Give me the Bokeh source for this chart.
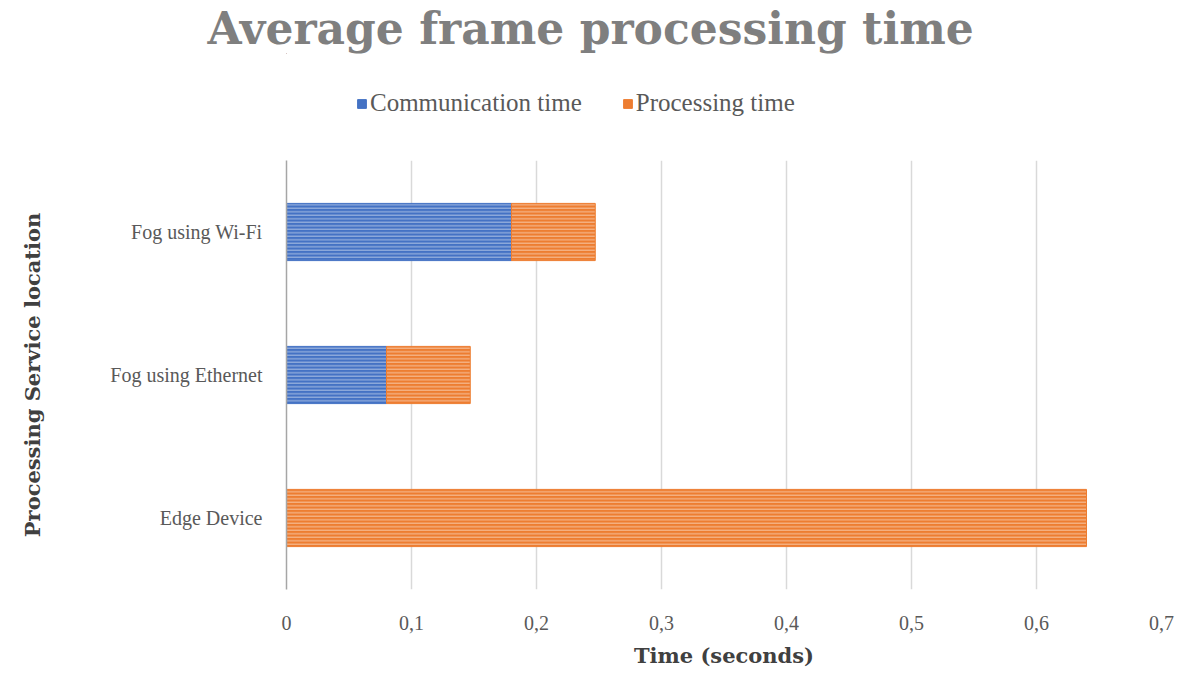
from bokeh.plotting import figure
from bokeh.layouts import column
from bokeh.models import ColumnDataSource, FixedTicker, Legend, LegendItem
from bokeh.embed import file_html
from bokeh.resources import INLINE

categories = ["Edge Device", "Fog using Ethernet", "Fog using Wi-Fi"]
communication = [0.0, 0.08, 0.18]
processing = [0.64, 0.067, 0.067]
series_names = ["Communication time", "Processing time"]
series_colors = ["#4472C4", "#ED7D31"]
tick_values = [0, 0.1, 0.2, 0.3, 0.4, 0.5, 0.6, 0.7]
tick_labels = ["0", "0,1", "0,2", "0,3", "0,4", "0,5", "0,6", "0,7"]

FONT = "Liberation Serif"
BOLD_FONT = "DejaVu Serif"
W = 1180

# ---- header: title + legend ----
header = figure(width=W, height=160, x_range=(0, 1), y_range=(0, 1),
                x_axis_type=None, y_axis_type=None,
                output_backend="svg", toolbar_location=None,
                title="Average frame processing time",
                min_border_left=0, min_border_right=0, min_border_top=15, min_border_bottom=0)
header.grid.visible = False
header.outline_line_color = None
header.title.text_font = BOLD_FONT
header.title.text_font_size = "44px"
header.title.text_font_style = "bold"
header.title.text_color = "#7f7f7f"
header.title.align = "left"
header.title.offset = -79
header.title.standoff = 0

items = []
for name, col in zip(series_names, series_colors):
    # zero-width proxy bar outside the visible range, only used for the legend swatch
    r = header.hbar(y=[5], left=[0], right=[0], height=0.5, color=col)
    items.append(LegendItem(label=name, renderers=[r]))
legend = Legend(items=items, orientation="horizontal", location=(70, 43))
legend.label_text_font = FONT
legend.label_text_font_size = "25px"
legend.label_text_color = "#595959"
legend.glyph_width = 11
legend.glyph_height = 11
legend.spacing = 40
legend.label_standoff = 3
legend.border_line_color = None
legend.background_fill_alpha = 0
header.add_layout(legend, "center")

# ---- main chart ----
source = ColumnDataSource(dict(cat=categories, comm=communication, proc=processing))

p = figure(frame_width=875, frame_height=429, y_range=categories, x_range=(0, 0.7),
           output_backend="svg", toolbar_location=None,
           min_border_left=286, min_border_right=W - 286 - 875,
           min_border_top=0, min_border_bottom=10)

p.hbar_stack(["comm", "proc"], y="cat", height=0.4, source=source,
             color=series_colors,
             hatch_pattern="horizontal_line", hatch_color="white",
             hatch_alpha=0.55, hatch_scale=3.5, hatch_weight=1)

p.xaxis.ticker = FixedTicker(ticks=tick_values)
p.xaxis.major_label_overrides = {v: l for v, l in zip(tick_values, tick_labels)}
p.xaxis.axis_line_color = None
p.xaxis.major_tick_line_color = None
p.xaxis.minor_tick_line_color = None
p.xaxis.major_label_text_font = FONT
p.xaxis.major_label_text_font_size = "20px"
p.xaxis.major_label_text_color = "#595959"
p.xaxis.major_label_standoff = 20
p.xaxis.axis_label = "Time (seconds)"
p.xaxis.axis_label_text_font = BOLD_FONT
p.xaxis.axis_label_text_font_size = "21px"
p.xaxis.axis_label_text_font_style = "bold"
p.xaxis.axis_label_text_color = "#404040"
p.xaxis.axis_label_standoff = 10

p.yaxis.axis_line_color = "#a6a6a6"
p.yaxis.axis_line_width = 1.5
p.yaxis.major_tick_line_color = None
p.yaxis.minor_tick_line_color = None
p.yaxis.major_label_text_font = FONT
p.yaxis.major_label_text_font_size = "20px"
p.yaxis.major_label_text_color = "#595959"
p.yaxis.major_label_standoff = 18
p.yaxis.axis_label = "Processing Service location"
p.yaxis.axis_label_text_font = BOLD_FONT
p.yaxis.axis_label_text_font_size = "21px"
p.yaxis.axis_label_text_font_style = "bold"
p.yaxis.axis_label_text_color = "#404040"
p.yaxis.axis_label_standoff = 62

p.xgrid.grid_line_color = "#d9d9d9"
p.xgrid.grid_line_width = 1.5
p.ygrid.grid_line_color = None
p.outline_line_color = None
p.y_range.range_padding = 0

layout = column(header, p, spacing=0)
open("out.html", "w").write(file_html(layout, INLINE))
